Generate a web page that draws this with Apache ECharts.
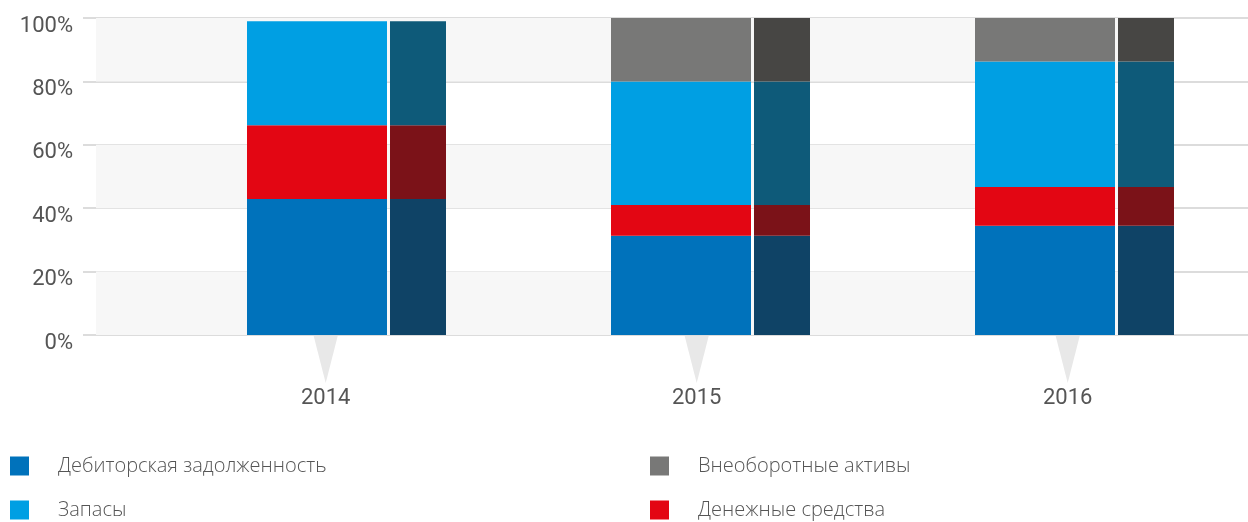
<!DOCTYPE html>
<html>
<head>
<meta charset="utf-8">
<script src="https://cdn.jsdelivr.net/npm/echarts@6/dist/echarts.min.js"></script>
<style>
  html, body { margin: 0; padding: 0; background: #fff; }
  #chart { width: 1248px; height: 522px; }
</style>
</head>
<body>
<div id="chart"></div>
<script>
// categories
const years = ['2014', '2015', '2016']

// shares of total, % (stacked bottom -> top)
const receivables = [42.9, 31.3, 34.5]   // Дебиторская задолженность
const cash = [23.3, 9.7, 12.2]           // Денежные средства
const inventory = [32.8, 39.0, 39.6]     // Запасы
const fixedAssets = [0, 20.0, 13.7]      // Внеоборотные активы

const seriesNames = ['Дебиторская задолженность', 'Денежные средства', 'Запасы', 'Внеоборотные активы']
const seriesData = [receivables, cash, inventory, fixedAssets]
const mainColors = ['#0072bb', '#e30613', '#009fe3', '#787877']
const darkColors = ['#0f4366', '#7b1218', '#0e5a79', '#474644']

// shaded background stripes (y ranges)
const stripes = [[0, 20], [40, 60], [80, 100]]

const gridTop = 18
const gridBottom = 187

const chart = echarts.init(document.getElementById('chart'))

const yBase = {min: 0, max: 100, interval: 20}

const mainSeries = seriesNames.map((name, i) => ({
  type: 'bar',
  name: name,
  stack: 'main',
  xAxisIndex: 2,
  yAxisIndex: 2,
  barWidth: 140,
  barGap: '2.14%',
  itemStyle: {color: mainColors[i]},
  data: seriesData[i]
}))

const darkSeries = seriesNames.map((name, i) => ({
  type: 'bar',
  name: name,
  stack: 'dark',
  xAxisIndex: 2,
  yAxisIndex: 2,
  barWidth: 56,
  barGap: '2.14%',
  itemStyle: {color: darkColors[i]},
  data: seriesData[i]
}))

// legend: two columns, two rows
const legendSlots = [
  {name: seriesNames[0], left: 10, top: 456},
  {name: seriesNames[2], left: 10, top: 500},
  {name: seriesNames[3], left: 650, top: 456},
  {name: seriesNames[1], left: 650, top: 500}
]

const legends = legendSlots.map(s => ({
  data: [s.name],
  left: s.left,
  top: s.top,
  padding: 0,
  icon: 'rect',
  itemWidth: 19,
  itemHeight: 19,
  selectedMode: false,
  textStyle: {fontFamily: 'Open Sans', fontWeight: 300, fontSize: 20, color: '#555', padding: [0, 0, 0, 24]}
}))

const gridBase = {top: gridTop, bottom: gridBottom, outerBoundsMode: 'none'}

const option = {
  animation: false,
  textStyle: {fontFamily: 'Roboto'},
  grid: [
    // gridlines + y labels
    Object.assign({left: 83, right: 0}, gridBase),
    // background stripes
    Object.assign({left: 96, right: 74}, gridBase),
    // bars
    Object.assign({left: 164.5, width: 1092}, gridBase),
    // year labels + pointers
    Object.assign({left: 140.2, width: 1113}, gridBase)
  ],
  xAxis: [0, 1, 2, 3].map(g => ({
    type: 'category',
    gridIndex: g,
    data: years,
    show: g === 3,
    axisLine: {show: false},
    axisTick: {show: false},
    axisLabel: {
      show: g === 3,
      margin: 52,
      fontSize: 22,
      color: '#555'
    }
  })),
  yAxis: [
    Object.assign({
      type: 'value',
      gridIndex: 0,
      z: 1,
      axisLine: {show: false},
      axisTick: {show: false},
      axisLabel: {
        formatter: '{value}%',
        fontSize: 22,
        color: '#555',
        margin: 10,
        verticalAlign: 'top',
        lineHeight: 16
      },
      splitLine: {lineStyle: {color: '#dcdcdc', width: 2}}
    }, yBase),
    Object.assign({type: 'value', gridIndex: 1, show: false}, yBase),
    Object.assign({type: 'value', gridIndex: 2, show: false}, yBase),
    Object.assign({type: 'value', gridIndex: 3, show: false}, yBase)
  ],
  legend: legends,
  series: [
    {
      type: 'line',
      xAxisIndex: 1,
      yAxisIndex: 1,
      z: 0,
      silent: true,
      symbol: 'none',
      data: [],
      markArea: {
        silent: true,
        itemStyle: {color: '#f7f7f7'},
        data: stripes.map(r => [{yAxis: r[0]}, {yAxis: r[1]}])
      }
    },
    ...mainSeries,
    ...darkSeries,
    {
      // small pointers under each year
      type: 'custom',
      xAxisIndex: 3,
      yAxisIndex: 3,
      silent: true,
      clip: false,
      data: years.map((y, i) => [i, 0]),
      renderItem: function(params, api) {
        const p = api.coord([api.value(0), 0])
        return {
          type: 'polygon',
          shape: {points: [[p[0] - 12, p[1] + 1], [p[0] + 12, p[1] + 1], [p[0], p[1] + 48]]},
          style: {fill: '#e8e8e8'}
        }
      }
    }
  ]
}

chart.setOption(option)
</script>
</body>
</html>
